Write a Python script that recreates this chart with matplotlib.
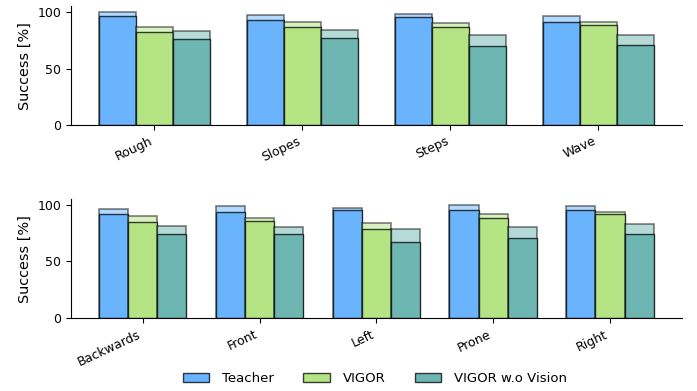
import numpy as np
import matplotlib.pyplot as plt

methods = ['Teacher', 'VIGOR', 'VIGOR w.o Vision']
colors = ['#6ab4fe', '#b5e485', '#6db6b2']

terrains = ['Rough', 'Slopes', 'Steps', 'Wave']
terrain_mean = [
    [96.5, 92.6, 95.3, 91.2],   # Teacher
    [82.0, 86.4, 86.4, 88.2],   # VIGOR
    [75.8, 77.0, 69.6, 70.5],   # VIGOR w.o Vision
]
terrain_best = [
    [100.0, 97.0, 98.2, 96.5],
    [87.0, 91.5, 90.3, 91.5],
    [83.0, 83.8, 79.4, 79.6],
]

commands = ['Backwards', 'Front', 'Left', 'Prone', 'Right']
command_mean = [
    [91.5, 93.3, 95.0, 95.4, 95.0],
    [84.5, 86.0, 78.6, 88.4, 91.5],
    [74.0, 74.0, 67.0, 71.0, 74.5],
]
command_best = [
    [96.5, 98.8, 97.5, 100.0, 98.8],
    [89.9, 88.3, 83.9, 91.9, 93.3],
    [81.5, 80.4, 78.2, 80.7, 83.3],
]

fig = plt.figure(figsize=(6.97, 3.91), dpi=100)
ax1 = fig.add_axes([0.102, 0.680, 0.876, 0.304])
ax2 = fig.add_axes([0.102, 0.186, 0.876, 0.305])

width = 0.25


def draw(ax, labels, mean, best):
    ind = np.arange(len(labels))
    handles = []
    for i in range(3):
        x = ind + (i - 1) * width
        # best run as a faded bar behind the mean
        ax.bar(x, best[i], width, color=colors[i], alpha=0.5,
               edgecolor='black', linewidth=1.2)
        h = ax.bar(x, mean[i], width, color=colors[i],
                   edgecolor=(0, 0, 0, 0.75), linewidth=1.0, label=methods[i])
        handles.append(h)
    ax.set_xticks(ind)
    ax.set_xticklabels(labels, rotation=25, ha='right', fontsize=9)
    ax.tick_params(axis='y', labelsize=9)
    ax.set_yticks([0, 50, 100])
    ax.set_ylabel('Success [%]', fontsize=10.4)
    ax.spines['top'].set_visible(False)
    ax.spines['right'].set_visible(False)
    return handles


handles = draw(ax1, terrains, terrain_mean, terrain_best)
draw(ax2, commands, command_mean, command_best)
ax1.set_ylim(0, 105)
ax2.set_ylim(0, 105)

fig.legend(handles, methods, loc='lower center', ncol=3, frameon=False,
           fontsize=9.5, handletextpad=1.0, columnspacing=2.2,
           bbox_to_anchor=(0.538, -0.015))

fig.savefig('out.png', dpi=100)
